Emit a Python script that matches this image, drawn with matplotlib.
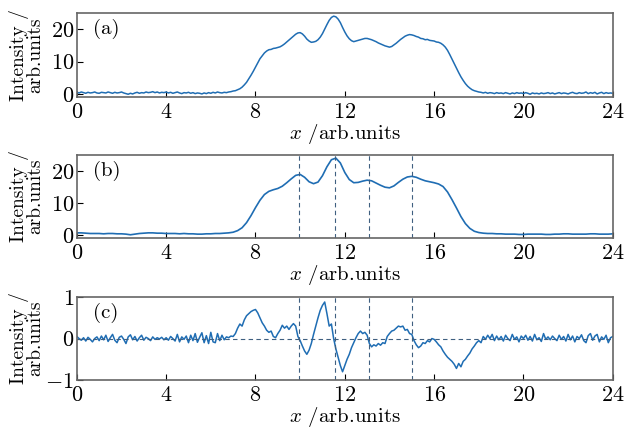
import matplotlib
matplotlib.use('Agg')
import matplotlib.pyplot as plt
import numpy as np

plt.rcParams['font.family'] = 'serif'
plt.rcParams['font.serif'] = ['cmr10', 'DejaVu Serif']
plt.rcParams['mathtext.fontset'] = 'cm'
plt.rcParams['axes.formatter.use_mathtext'] = True

tamanho_fonte = 15
cor_linha = '#1f6db3'
cor_tracejado = '#3f5f80'

# (a) perfil medido, passo 0.1
x_a = np.round(np.arange(0, 24.05, 0.1), 1)
y_a = [
    0.5, 0.3, 0.6, 0.4, 0.2, 0.5, 0.3, 0.4, 0.6, 0.3,
    0.2, 0.5, 0.4, 0.3, 0.6, 0.4, 0.2, 0.5, 0.3, 0.4,
    0.6, 0.3, 0.1, -0.1, 0.2, 0.0, 0.3, 0.5, 0.2, 0.4,
    0.3, 0.6, 0.4, 0.5, 0.7, 0.4, 0.6, 0.3, 0.5, 0.4,
    0.6, 0.3, 0.5, 0.2, 0.4, 0.6, 0.3, 0.1, 0.4, 0.3,
    0.5, 0.2, 0.4, 0.1, 0.3, 0.2, 0.0, 0.3, 0.1, 0.4,
    0.2, 0.5, 0.3, 0.6, 0.4, 0.3, 0.5, 0.4, 0.6, 0.7,
    0.9, 1.0, 1.3, 1.6, 2.1, 2.8, 3.6, 4.7, 5.8, 7.0,
    8.3, 9.6, 10.9, 11.8, 12.7, 13.3, 13.7, 13.8, 14.1, 14.2,
    14.4, 14.6, 15.0, 15.5, 16.1, 16.7, 17.3, 17.9, 18.5, 18.9,
    19.0, 18.6, 17.9, 17.0, 16.4, 16.0, 16.1, 16.3, 16.8, 17.6,
    18.7, 20.1, 21.5, 22.8, 23.7, 24.1, 23.9, 23.2, 22.1, 20.6,
    19.2, 18.0, 17.1, 16.5, 16.2, 16.4, 16.6, 16.8, 17.0, 17.2,
    17.2, 17.0, 16.8, 16.5, 16.2, 15.8, 15.5, 15.2, 14.9, 14.7,
    14.5, 14.7, 15.2, 15.7, 16.3, 16.9, 17.4, 17.9, 18.2, 18.4,
    18.3, 18.1, 17.8, 17.6, 17.2, 17.1, 16.8, 16.9, 16.6, 16.5,
    16.4, 16.1, 16.0, 15.7, 15.2, 14.5, 13.5, 12.2, 10.8, 9.4,
    8.0, 6.6, 5.3, 4.2, 3.2, 2.4, 1.8, 1.3, 1.0, 0.8,
    0.6, 0.5, 0.3, 0.5, 0.2, 0.4, 0.3, 0.1, 0.4, 0.2,
    0.3, 0.1, 0.4, 0.2, 0.0, 0.3, 0.1, 0.4, 0.2, 0.3,
    0.1, 0.4, 0.2, -0.1, 0.3, 0.1, 0.2, 0.0, 0.3, 0.1,
    0.2, 0.4, 0.1, 0.3, 0.0, 0.2, 0.4, 0.1, 0.3, 0.2,
    0.0, 0.3, 0.5, 0.2, 0.1, 0.4, 0.2, 0.3, 0.6, 0.1,
    0.4, 0.2, 0.5, 0.0, 0.3, 0.5, 0.1, 0.4, 0.2, 0.3,
    0.2,
]

# (b) perfil suavizado, passo 0.2
x_b = np.round(np.arange(0, 24.05, 0.2), 1)
y_b = [
    0.6, 0.6, 0.5, 0.4, 0.4, 0.4, 0.3, 0.4, 0.4, 0.3,
    0.3, 0.2, 0.0, 0.2, 0.4, 0.5, 0.6, 0.6, 0.5, 0.5,
    0.4, 0.4, 0.4, 0.3, 0.4, 0.3, 0.3, 0.2, 0.2, 0.3,
    0.3, 0.4, 0.4, 0.5, 0.6,
    0.8, 1.3, 2.2, 3.8, 6.0, 8.5, 10.8, 12.6, 13.6, 14.1,
    14.5, 15.2, 16.3, 17.5, 18.6, 18.9, 18.0, 16.6, 16.0, 16.5,
    18.5, 21.3, 23.5, 24.0, 22.5, 19.5, 17.3, 16.3, 16.4, 16.8,
    17.1, 16.9, 16.2, 15.5, 14.9, 14.7, 15.3, 16.4, 17.4, 18.1,
    18.3, 18.0, 17.4, 16.9, 16.6, 16.3, 15.9, 15.1, 13.4, 11.0,
    8.4, 5.7, 3.5, 2.0, 1.1, 0.7, 0.5, 0.4,
    0.4, 0.3, 0.3, 0.2, 0.2, 0.2, 0.1, 0.1, 0.2, 0.2,
    0.2, 0.2, 0.1, 0.1, 0.2, 0.2, 0.3, 0.3, 0.2, 0.2,
    0.2, 0.2, 0.3, 0.3, 0.2, 0.2, 0.2, 0.3,
]

# (c) diferenca, passo 0.1
x_c = np.round(np.arange(0, 24.05, 0.1), 1)
y_c = [
    0.05, 0.0, -0.04, 0.02, -0.06, 0.03, -0.02, -0.08, 0.0, 0.04,
    -0.05, 0.06, -0.03, 0.08, -0.07, 0.02, 0.1, -0.04, -0.1, 0.03,
    0.06, -0.02, -0.12, 0.04, 0.09, -0.03, 0.05, -0.06, 0.02, 0.08,
    -0.04, 0.03, 0.0, -0.05, 0.04, -0.02, 0.02, -0.01, 0.03, -0.03,
    0.02, -0.04, 0.05, 0.0, -0.06, 0.1, -0.08, 0.04, -0.02, 0.06,
    -0.1, 0.08, -0.05, 0.12, -0.09, 0.03, 0.14, -0.1, 0.07, -0.12,
    0.15, -0.08, -0.1, 0.12, -0.05, 0.08, -0.03, 0.04, 0.02, 0.06,
    0.05, 0.12, 0.25, 0.35, 0.3, 0.45, 0.55, 0.6, 0.65, 0.68,
    0.7, 0.62, 0.5, 0.38, 0.3, 0.2, 0.15, 0.18, 0.05, 0.02,
    0.12, 0.2, 0.32, 0.25, 0.3, 0.22, 0.3, 0.36, 0.3, 0.05,
    -0.05, -0.18, -0.3, -0.38, -0.28, -0.12, 0.1, 0.3, 0.5, 0.68,
    0.8, 0.88, 0.6, 0.3, 0.35, 0.0, -0.25, -0.45, -0.65, -0.8,
    -0.65, -0.5, -0.38, -0.22, -0.1, 0.02, 0.12, 0.18, 0.12, 0.15,
    0.08, -0.12, -0.2, -0.15, -0.18, -0.12, -0.16, -0.1, -0.12, 0.05,
    0.12, 0.18, 0.2, 0.25, 0.3, 0.28, 0.3, 0.2, 0.22, 0.12,
    0.1, -0.05, -0.15, -0.22, -0.18, -0.1, -0.12, -0.05, -0.08, 0.0,
    -0.02, -0.08, -0.15, -0.2, -0.3, -0.38, -0.45, -0.5, -0.55, -0.62,
    -0.72, -0.6, -0.68, -0.55, -0.5, -0.42, -0.35, -0.25, -0.18, -0.1,
    -0.05, -0.1, 0.05, -0.02, 0.08, 0.0, 0.1, -0.05, 0.06, -0.03,
    0.05, -0.06, 0.08, 0.0, -0.05, 0.1, -0.02, 0.04, -0.08, 0.06,
    0.0, 0.08, -0.04, 0.05, -0.06, 0.1, -0.03, 0.02, -0.07, 0.12,
    -0.02, 0.04, -0.03, 0.06, 0.0, -0.05, 0.08, -0.02, 0.05, -0.06,
    0.1, -0.03, 0.06, -0.08, 0.05, 0.0, 0.09, -0.05, -0.1, 0.07,
    0.12, -0.04, 0.06, 0.1, -0.08, 0.04, -0.02, 0.08, -0.1, 0.02,
    0.05,
]

picos = [9.96, 11.55, 13.1, 15.0]

xticks = [0, 4, 8, 12, 16, 20, 24]

fig = plt.figure(figsize=(6.35, 4.28), dpi=100)
ax_a = fig.add_axes([0.121, 0.773, 0.844, 0.196])
ax_b = fig.add_axes([0.121, 0.444, 0.844, 0.194])
ax_c = fig.add_axes([0.121, 0.112, 0.844, 0.194])

ax_a.plot(x_a, y_a, color=cor_linha, linewidth=1.1)
ax_b.plot(x_b, y_b, color=cor_linha, linewidth=1.2)
ax_c.plot(x_c, y_c, color=cor_linha, linewidth=1.1)

for ax in (ax_b, ax_c):
    for p in picos:
        ax.axvline(p, color=cor_tracejado, linestyle=(0, (4, 3)), linewidth=0.8)
ax_c.axhline(0, color=cor_tracejado, linestyle=(0, (4, 3)), linewidth=0.8)

for ax, letra in zip((ax_a, ax_b, ax_c), ('(a)', '(b)', '(c)')):
    ax.set_xlim(0, 24)
    ax.set_xticks(xticks)
    ax.tick_params(direction='in', length=4, labelsize=16)
    ax.tick_params(axis='x', pad=4)
    ax.tick_params(axis='y', pad=2)
    for s in ax.spines.values():
        s.set_color('#666666')
        s.set_linewidth(1.2)
    ax.set_xlabel('$x$ /arb.units', fontsize=tamanho_fonte, labelpad=0)
    ax.set_ylabel('Intensity /\narb.units', fontsize=14, linespacing=0.85)
    ax.yaxis.set_label_coords(-0.06, 0.5)
    ax.text(0.03, 0.81, letra, transform=ax.transAxes, fontsize=tamanho_fonte,
            va='center', ha='left')

for ax in (ax_a, ax_b):
    ax.set_ylim(-1, 25)
    ax.set_yticks([0, 10, 20])
ax_c.set_ylim(-1, 1)
ax_c.set_yticks([-1, 0, 1])

fig.savefig('out.png', dpi=100)
plt.close()
